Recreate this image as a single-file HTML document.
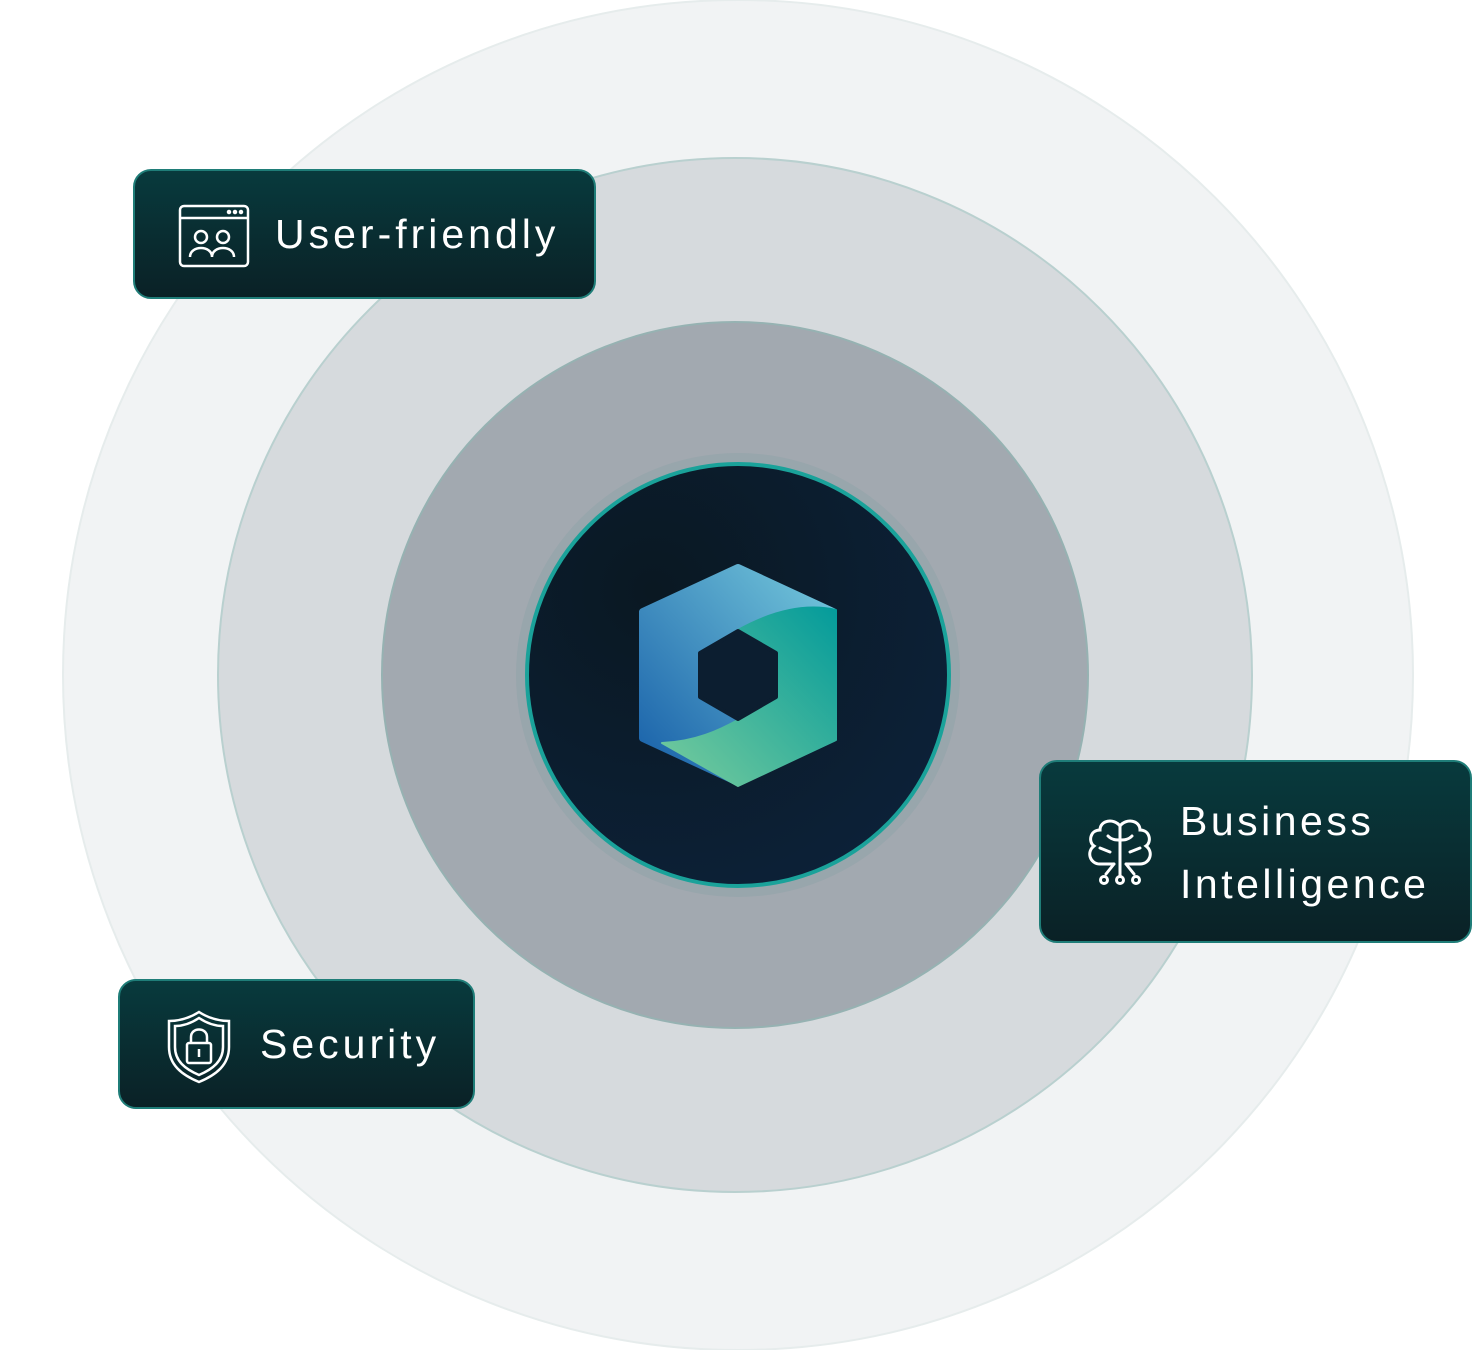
<!DOCTYPE html>
<html><head><meta charset="utf-8"><style>
body{margin:0;width:1482px;height:1350px;background:#fff;overflow:hidden;font-family:"Liberation Sans",sans-serif}
.card{position:absolute;box-sizing:border-box;border:2px solid #1f7d78;border-radius:18px;background:linear-gradient(180deg,#083a3d,#0a2126);color:#fff;letter-spacing:3px}
</style></head><body>
<svg width="1482" height="1350" style="position:absolute;left:0;top:0">
<defs>
<radialGradient id="core" cx="0.3" cy="0.3" r="0.8"><stop offset="0" stop-color="#0a1822"/><stop offset="1" stop-color="#0c2138"/></radialGradient>
<linearGradient id="blue" x1="0" y1="1" x2="1" y2="0"><stop offset="0" stop-color="#165ea8"/><stop offset="1" stop-color="#76c9dc"/></linearGradient>
<linearGradient id="green" x1="1" y1="0" x2="0" y2="1"><stop offset="0" stop-color="#049b9b"/><stop offset="1" stop-color="#78cc9c"/></linearGradient>
</defs>
<circle cx="738" cy="675" r="675" fill="#f1f3f4" stroke="#e6ecec" stroke-width="2"/>
<circle cx="735" cy="675" r="517" fill="#d6dadd" stroke="#b9d0cf" stroke-width="2"/>
<circle cx="735" cy="675" r="353" fill="#a2a9b0" stroke="#96b2b2" stroke-width="2"/>
<circle cx="738" cy="675" r="222" fill="#8aa3a8" opacity="0.4"/>
<circle cx="738" cy="675" r="211" fill="url(#core)" stroke="#1aa29a" stroke-width="4"/>
<path d="M738 568 L833 612 L833 738 L738 782 L643 738 L643 612 Z" fill="url(#blue)" stroke="url(#blue)" stroke-width="8" stroke-linejoin="round"/>
<path d="M738 630 C765 615 800 602 836 610 L836 740 L738 786 L662 743 C695 742 720 730 738 720 Z" fill="url(#green)" stroke="url(#green)" stroke-width="2" stroke-linejoin="round"/>
<path d="M738 631 L776 653 L776 697 L738 719 L700 697 L700 653 Z" fill="#0c1e30" stroke="#0c1e30" stroke-width="4" stroke-linejoin="round"/>
</svg>

<div class="card" style="left:133px;top:169px;width:463px;height:130px">
<svg width="74" height="66" style="position:absolute;left:42px;top:32px" fill="none" stroke="#fff" stroke-width="2.5">
<rect x="3" y="3" width="68" height="60" rx="4"/><line x1="3" y1="15" x2="71" y2="15"/>
<circle cx="52" cy="9" r="1" fill="#fff"/><circle cx="58" cy="9" r="1" fill="#fff"/><circle cx="64" cy="9" r="1" fill="#fff"/>
<circle cx="24" cy="34" r="6"/><circle cx="46" cy="34" r="6"/>
<path d="M13 54 C13 42 35 42 35 54 M35 54 C35 42 57 42 57 54"/>
</svg>
<div style="position:absolute;left:140px;top:40px;font-size:41px;letter-spacing:4px">User-friendly</div>
</div>

<div class="card" style="left:1039px;top:760px;width:433px;height:183px">
<svg width="70" height="72" style="position:absolute;left:45px;top:56px" fill="none" stroke="#fff" stroke-width="3" stroke-linecap="round">
<path d="M34 8 C28 0 14 2 14 12 C4 12 2 24 8 28 C0 34 4 46 14 46 L28 46 M34 8 C40 0 54 2 54 12 C64 12 66 24 60 28 C68 34 64 46 54 46 L40 46 M34 8 L34 58 M22 18 C26 22 30 22 34 22 M46 18 C42 22 38 22 34 22 M14 30 L24 34 M54 30 L44 34 M28 46 L20 56 M40 46 L48 56"/>
<circle cx="18" cy="62" r="3.5"/><circle cx="34" cy="62" r="3.5"/><circle cx="50" cy="62" r="3.5"/>
</svg>
<div style="position:absolute;left:139px;top:28px;font-size:41px;line-height:63px;letter-spacing:3.5px">Business<br>Intelligence</div>
</div>

<div class="card" style="left:118px;top:979px;width:357px;height:130px">
<svg width="66" height="76" style="position:absolute;left:46px;top:28px" fill="none" stroke="#fff" stroke-width="2.5">
<path d="M33 3 C44 10 54 12 63 12 L63 38 C63 56 50 66 33 73 C16 66 3 56 3 38 L3 12 C12 12 22 10 33 3 Z"/>
<path d="M33 9 C42 15 50 17 57 17 L57 38 C57 52 47 60 33 66 C19 60 9 52 9 38 L9 17 C16 17 24 15 33 9 Z"/>
<rect x="21" y="34" width="24" height="20" rx="2"/><path d="M25 34 L25 28 C25 18 41 18 41 28 L41 34"/><line x1="33" y1="40" x2="33" y2="48"/>
</svg>
<div style="position:absolute;left:140px;top:40px;font-size:41px;letter-spacing:4px">Security</div>
</div>
</body></html>
